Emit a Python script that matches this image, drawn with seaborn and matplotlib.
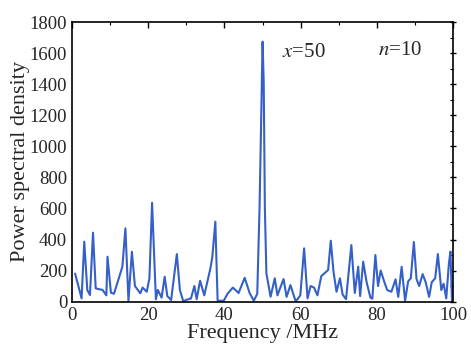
import matplotlib
matplotlib.use("Agg")
import matplotlib.pyplot as plt
import seaborn as sns
import pandas as pd
from matplotlib.ticker import MultipleLocator

freq = [0.8, 2.5, 3.2, 4.0, 4.7, 5.5, 6.2, 7.0, 8.0, 9.0, 9.3, 10.2, 11.0, 13.2, 14.0,
        14.8, 15.7, 16.5, 17.9, 18.5, 19.6, 20.3, 21.0, 22.0, 22.5, 23.5, 24.3, 25.0,
        26.0, 27.5, 28.3, 29.2, 29.9, 31.2, 32.1, 32.7, 33.6, 34.7, 36.3, 36.8, 37.6,
        38.2, 39.8, 40.8, 42.2, 43.7, 45.3, 46.6, 47.7, 48.6, 49.2, 49.6, 50.0, 50.3,
        50.6, 51.0, 52.1, 53.2, 53.9, 55.5, 56.3, 57.3, 58.7, 59.9, 60.9, 61.8, 62.6,
        63.5, 64.4, 65.4, 67.2, 67.9, 68.6, 69.4, 70.3, 71.0, 71.9, 73.3, 74.2, 75.1,
        75.6, 76.4, 77.3, 78.3, 78.8, 79.6, 80.3, 81.0, 81.9, 82.7, 83.8, 84.9, 85.6,
        86.5, 87.4, 88.2, 88.9, 89.7, 90.4, 91.1, 92.0, 92.8, 93.7, 94.4, 95.3, 96.0,
        96.9, 97.5, 98.2, 98.9, 99.3, 99.7, 100.0]
psd = [180, 20, 386, 74, 42, 444, 85, 80, 75, 40, 289, 57, 50, 224, 472,
       5, 321, 100, 53, 90, 63, 150, 637, 14, 75, 25, 160, 35,
       10, 306, 74, 0, 10, 20, 100, 15, 134, 40, 214, 285, 515,
       5, 5, 50, 90, 55, 153, 55, 5, 50, 600, 1130, 1676, 1410,
       600, 182, 31, 150, 40, 145, 30, 106, 0, 40, 343, 20, 100,
       90, 40, 164, 203, 392, 195, 63, 150, 45, 15, 364, 55, 225,
       35, 257, 125, 25, 18, 300, 100, 200, 130, 74, 63, 143, 30,
       224, 5, 130, 150, 384, 145, 100, 177, 125, 30, 125, 150, 306,
       74, 115, 20, 246, 322, 5, 120]

xticks = [0, 20, 40, 60, 80, 100]
yticks = [0, 200, 400, 600, 800, 1000, 1200, 1400, 1600, 1800]

sns.set_style("white")
plt.rcParams["font.family"] = ["Liberation Serif", "DejaVu Serif"]
plt.rcParams["mathtext.fontset"] = "stix"

df = pd.DataFrame({"Frequency": freq, "PSD": psd})

fig = plt.figure(figsize=(4.71, 3.45), dpi=100)
ax = fig.add_axes([0.153, 0.126, 0.809, 0.809])
sns.lineplot(data=df, x="Frequency", y="PSD", ax=ax, color="#3560c8",
             linewidth=1.5, estimator=None, sort=False)

ax.set_xlim(0, 100)
ax.set_ylim(0, 1800)
ax.set_xticks(xticks)
ax.set_yticks(yticks)
ax.xaxis.set_minor_locator(MultipleLocator(10))
ax.yaxis.set_minor_locator(MultipleLocator(100))
ax.tick_params(which="both", direction="in", top=True, right=True, labelsize=13.5,
               color="black")
ax.tick_params(axis="x", which="major", length=4, width=1, pad=4)
ax.tick_params(axis="y", which="major", direction="inout", length=5, width=1, pad=1)
ax.tick_params(which="minor", length=2.5, width=0.8)
for s in ax.spines.values():
    s.set_color("black")
    s.set_linewidth(1.2)

ax.set_xlabel("Frequency /MHz", fontsize=16, labelpad=0)
ax.set_ylabel("Power spectral density", fontsize=16, labelpad=0)

ax.text(60.8, 1609, "$x$=50", fontsize=15, ha="center", va="center")
ax.text(86, 1622, "$n$=10", fontsize=15, ha="center", va="center")

fig.savefig("out.png", dpi=100)
